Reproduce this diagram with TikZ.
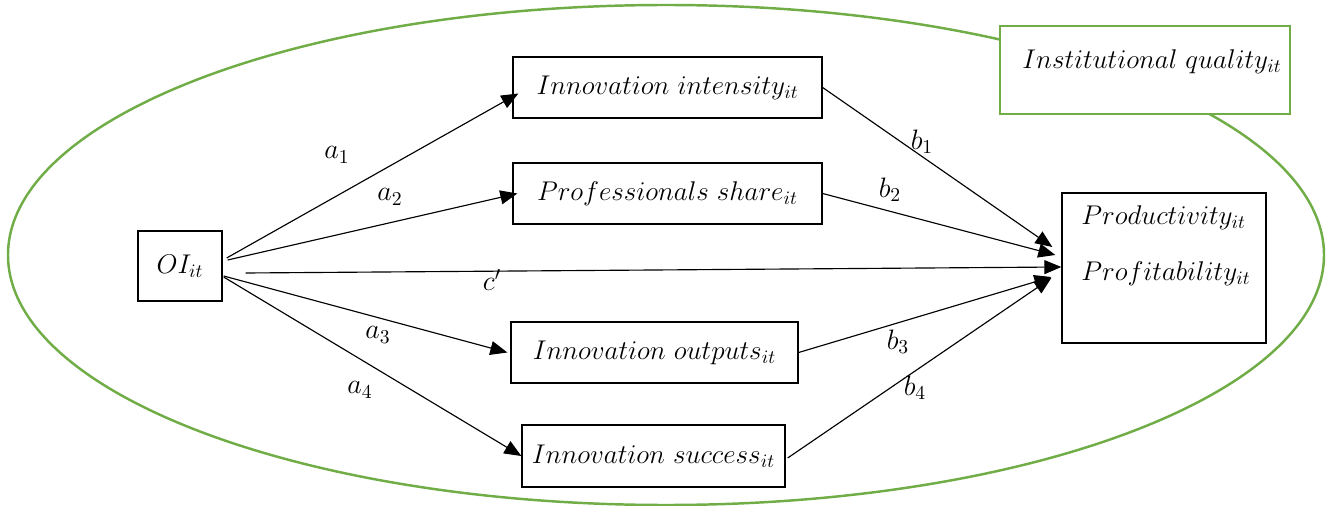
\RequirePackage{fix-cm}
\documentclass[tikz,border=0pt]{standalone}
\usepackage{amsmath,amssymb}
\usepackage{tikz}
\usetikzlibrary{positioning,arrows.meta,calc}
\definecolor{ink}{HTML}{000000}
\definecolor{leaf}{HTML}{70AD47}
\tikzset{
  blk/.style={rectangle,draw=ink,line width=0.75pt,fill=white,inner sep=0pt,
    font=\fontsize{15.4}{18}\selectfont},
  blkg/.style={rectangle,draw=leaf,line width=1.4pt,fill=white,inner sep=0pt},
  txt/.style={inner sep=0pt,font=\fontsize{15.4}{18}\selectfont},
  ar/.style={-{Triangle[length=3.4mm,width=2.8mm]},line width=0.65pt,draw=ink},
  lbl/.style={inner sep=0pt,font=\fontsize{16}{19}\selectfont},
}

\begin{document}
\begin{tikzpicture}[x=0.2mm,y=-0.2mm]
  \useasboundingbox (0,0) rectangle (1326,506);
  % moderating context
  \draw[leaf,line width=1.4pt] (666,255) ellipse [x radius=658,y radius=250];
  \node[blkg,minimum width=58mm,minimum height=17.6mm] (iq) at (1145,70) {};
  \node[txt] (iqtxt) at (1152,62) {$Institutional\ quality_{it}$};

  % boxes
  \node[blk,minimum width=16.8mm,minimum height=14mm] (oi) at (180,266) {$OI_{it}$};
  \node[blk,minimum width=61.8mm,minimum height=12.2mm] (int) at (667.5,87.5) {$Innovation\ intensity_{it}$};
  \node[blk,minimum width=61.8mm,minimum height=12.2mm] (prof) at (667.5,193.5) {$Professionals\ share_{it}$};
  \node[blk,minimum width=57.4mm,minimum height=12.2mm] (outp) at (654.5,352.5) {$Innovation\ outputs_{it}$};
  \node[blk,minimum width=52.6mm,minimum height=12.4mm] (succ) at (653.5,456) {$Innovation\ success_{it}$};
  \node[blk,minimum width=40.8mm,minimum height=30mm] (prod) at (1164,268) {};
  \node[txt,align=left,anchor=north west] (prodtxt) at (1081,205)
    {$Productivity_{it}$\\[14pt]$Profitability_{it}$};

  % a paths
  \draw[ar] ($(oi.east)+(4,-8)$) -- ($(int.west)+(6,6)$);
  \draw[ar] ($(oi.east)+(5,-6)$) -- ($(prof.west)+(5,0)$);
  \draw[ar] ($(oi.east)+(1,10)$) -- ($(outp.west)+(-3,0)$);
  \draw[ar] ($(oi.east)+(1,11)$) -- (succ.west);
  % direct path
  \draw[ar] ($(oi.east)+(23,7)$) -- ($(prod.west)+(0,-1)$);
  % b paths
  \draw[ar] (int.east) -- ($(prod.west)+(-9,-21)$);
  \draw[ar] (prof.east) -- ($(prod.west)+(-6,-13)$);
  \draw[ar] (outp.east) -- ($(prod.west)+(-10,9)$);
  \draw[ar] ($(succ.east)+(2,2)$) -- ($(prod.west)+(-10,10)$);

  \node[lbl] (la1) at (337,155) {$a_1$};
  \node[lbl] (la2) at (390,197) {$a_2$};
  \node[lbl] (lc) at (492,280) {$c'$};
  \node[lbl] (la3) at (378,335) {$a_3$};
  \node[lbl] (la4) at (360,390) {$a_4$};
  \node[lbl] (lb1) at (922,142) {$b_1$};
  \node[lbl] (lb2) at (890,190) {$b_2$};
  \node[lbl] (lb3) at (898,342) {$b_3$};
  \node[lbl] (lb4) at (915,388) {$b_4$};
\end{tikzpicture}
\end{document}
